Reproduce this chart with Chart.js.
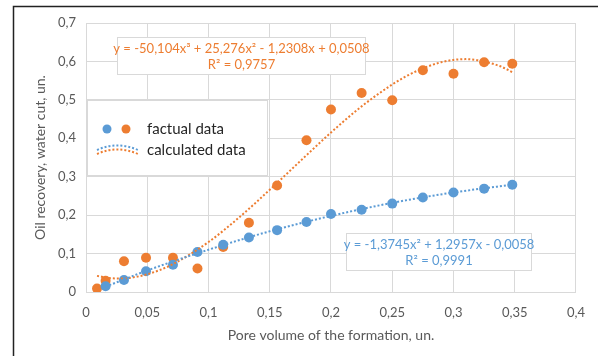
<!DOCTYPE html>
<html>
<head>
<meta charset="utf-8">
<script src="https://cdn.jsdelivr.net/npm/chart.js@4/dist/chart.umd.min.js"></script>
<style>
  html, body { margin: 0; padding: 0; background: #fff; }
  #wrap { width: 598px; height: 356px; position: relative; }
</style>
</head>
<body>
<div id="wrap"><canvas id="myChart" width="598" height="356"></canvas></div>
<script>
// factual data
const xBlue = [0.016, 0.031, 0.049, 0.071, 0.091, 0.112, 0.133, 0.156, 0.18, 0.2, 0.225, 0.25, 0.275, 0.3, 0.325, 0.348];
const yBlue = [0.015, 0.031, 0.054, 0.071, 0.104, 0.123, 0.142, 0.161, 0.182, 0.203, 0.214, 0.23, 0.246, 0.259, 0.269, 0.279];
const xOrange = [0.009, 0.016, 0.031, 0.049, 0.071, 0.091, 0.112, 0.133, 0.156, 0.18, 0.2, 0.225, 0.25, 0.275, 0.3, 0.325, 0.348];
const yOrange = [0.009, 0.029, 0.08, 0.089, 0.089, 0.061, 0.117, 0.18, 0.277, 0.395, 0.475, 0.518, 0.499, 0.577, 0.568, 0.598, 0.594];

// calculated data (trend lines)
const xFitBlue = [0.016, 0.05, 0.1, 0.15, 0.2, 0.25, 0.3, 0.348];
const yFitBlue = [0.014, 0.056, 0.110, 0.158, 0.198, 0.232, 0.259, 0.279];
const xFitOrange = [0.009, 0.02, 0.03, 0.04, 0.05, 0.07, 0.1, 0.125, 0.15, 0.175, 0.2, 0.225, 0.25, 0.26, 0.275, 0.29, 0.3, 0.31, 0.32, 0.335, 0.34, 0.348];
const yFitOrange = [0.042, 0.036, 0.035, 0.039, 0.046, 0.071, 0.130, 0.194, 0.266, 0.341, 0.415, 0.483, 0.540, 0.559, 0.582, 0.598, 0.604, 0.606, 0.603, 0.591, 0.585, 0.572];

const xTickLabels = ["0", "0,05", "0,1", "0,15", "0,2", "0,25", "0,3", "0,35", "0,4"];
const yTickLabels = ["0", "0,1", "0,2", "0,3", "0,4", "0,5", "0,6", "0,7"];

const eqOrange = ["y = -50,104x³ + 25,276x² - 1,2308x + 0,0508", "R² = 0,9757"];
const eqBlue = ["y = -1,3745x² + 1,2957x - 0,0058", "R² = 0,9991"];

const blue = "#5B9BD5";
const orange = "#ED7D31";
const font = "Lato, 'Open Sans', sans-serif";

function pts(xs, ys) {
  return xs.map((x, i) => ({ x: x, y: ys[i] }));
}

function textBox(ctx, lines, color, x1, y1, x2, y2) {
  ctx.save();
  ctx.fillStyle = "#fff";
  ctx.fillRect(x1, y1, x2 - x1, y2 - y1);
  ctx.strokeStyle = "#D9D9D9";
  ctx.lineWidth = 1;
  ctx.strokeRect(x1 + 0.5, y1 + 0.5, x2 - x1 - 1, y2 - y1 - 1);
  ctx.fillStyle = color;
  ctx.font = "13px " + font;
  ctx.textAlign = "center";
  ctx.textBaseline = "middle";
  const cx = (x1 + x2) / 2;
  ctx.fillText(lines[0], cx, y1 + 12);
  ctx.fillText(lines[1], cx, y1 + 28);
  ctx.restore();
}

const extras = {
  id: "extras",
  afterDatasetsDraw(chart) {
    const ctx = chart.ctx;
    // outer frame (left and top only)
    ctx.save();
    ctx.strokeStyle = "#222";
    ctx.lineWidth = 1.5;
    ctx.beginPath();
    ctx.moveTo(13.5, 356);
    ctx.lineTo(13.5, 6.5);
    ctx.lineTo(598, 6.5);
    ctx.stroke();

    // legend
    ctx.fillStyle = "#fff";
    ctx.fillRect(87, 100, 181, 76);
    ctx.strokeStyle = "#D9D9D9";
    ctx.lineWidth = 1;
    ctx.strokeRect(87.5, 100.5, 180, 75);
    ctx.fillStyle = blue;
    ctx.beginPath(); ctx.arc(107, 129, 4.5, 0, Math.PI * 2); ctx.fill();
    ctx.fillStyle = orange;
    ctx.beginPath(); ctx.arc(126, 129, 4.5, 0, Math.PI * 2); ctx.fill();
    ctx.lineWidth = 2;
    ctx.setLineDash([2, 2]);
    ctx.strokeStyle = blue;
    ctx.beginPath(); ctx.moveTo(97, 150); ctx.quadraticCurveTo(117, 141, 138, 150); ctx.stroke();
    ctx.strokeStyle = orange;
    ctx.beginPath(); ctx.moveTo(97, 154); ctx.quadraticCurveTo(117, 145, 138, 154); ctx.stroke();
    ctx.setLineDash([]);
    ctx.fillStyle = "#262626";
    ctx.font = "15px " + font;
    ctx.textBaseline = "middle";
    ctx.fillText("factual data", 147, 129);
    ctx.fillText("calculated data", 147, 150);
    ctx.restore();

    // trend line equations
    textBox(ctx, eqOrange, orange, 117, 37, 366, 75);
    textBox(ctx, eqBlue, blue, 346, 233, 532, 271);
  }
};

new Chart(document.getElementById("myChart"), {
  type: "scatter",
  data: {
    datasets: [
      {
        label: "calculated blue",
        data: pts(xFitBlue, yFitBlue),
        showLine: true,
        cubicInterpolationMode: "monotone",
        borderColor: blue,
        borderWidth: 2,
        borderDash: [2, 2],
        pointRadius: 0,
        fill: false
      },
      {
        label: "calculated orange",
        data: pts(xFitOrange, yFitOrange),
        showLine: true,
        cubicInterpolationMode: "monotone",
        borderColor: orange,
        borderWidth: 2,
        borderDash: [2, 2],
        pointRadius: 0,
        fill: false
      },
      {
        label: "factual blue",
        data: pts(xBlue, yBlue),
        backgroundColor: blue,
        borderColor: blue,
        pointRadius: 5,
        pointBorderWidth: 0
      },
      {
        label: "factual orange",
        data: pts(xOrange, yOrange),
        backgroundColor: orange,
        borderColor: orange,
        pointRadius: 5,
        pointBorderWidth: 0
      }
    ]
  },
  options: {
    responsive: false,
    animation: false,
    layout: { padding: { top: 23, right: 21, left: 0, bottom: 0 } },
    plugins: {
      legend: { display: false },
      tooltip: { enabled: false }
    },
    scales: {
      x: {
        type: "linear",
        min: 0,
        max: 0.4,
        afterFit: (s) => { s.height = 64; },
        ticks: {
          stepSize: 0.05,
          padding: 13,
          color: "#595959",
          font: { family: font, size: 13 },
          callback: (v, i) => xTickLabels[i]
        },
        grid: { color: "#D9D9D9", drawTicks: false },
        border: { color: "#D9D9D9" },
        title: {
          display: true,
          text: "Pore volume of the formation, un.",
          color: "#595959",
          font: { family: font, size: 14 },
          padding: { top: 0, bottom: 12 }
        }
      },
      y: {
        min: 0,
        max: 0.7,
        afterFit: (s) => { s.width = 86; },
        ticks: {
          stepSize: 0.1,
          padding: 10,
          color: "#595959",
          font: { family: font, size: 13 },
          callback: (v, i) => yTickLabels[i]
        },
        grid: { color: "#D9D9D9", drawTicks: false },
        border: { color: "#D9D9D9" },
        title: {
          display: true,
          text: "Oil recovery, water cut, un.",
          color: "#595959",
          font: { family: font, size: 14 },
          padding: { top: 32, bottom: 0 }
        }
      }
    }
  },
  plugins: [extras]
});
</script>
</body>
</html>
